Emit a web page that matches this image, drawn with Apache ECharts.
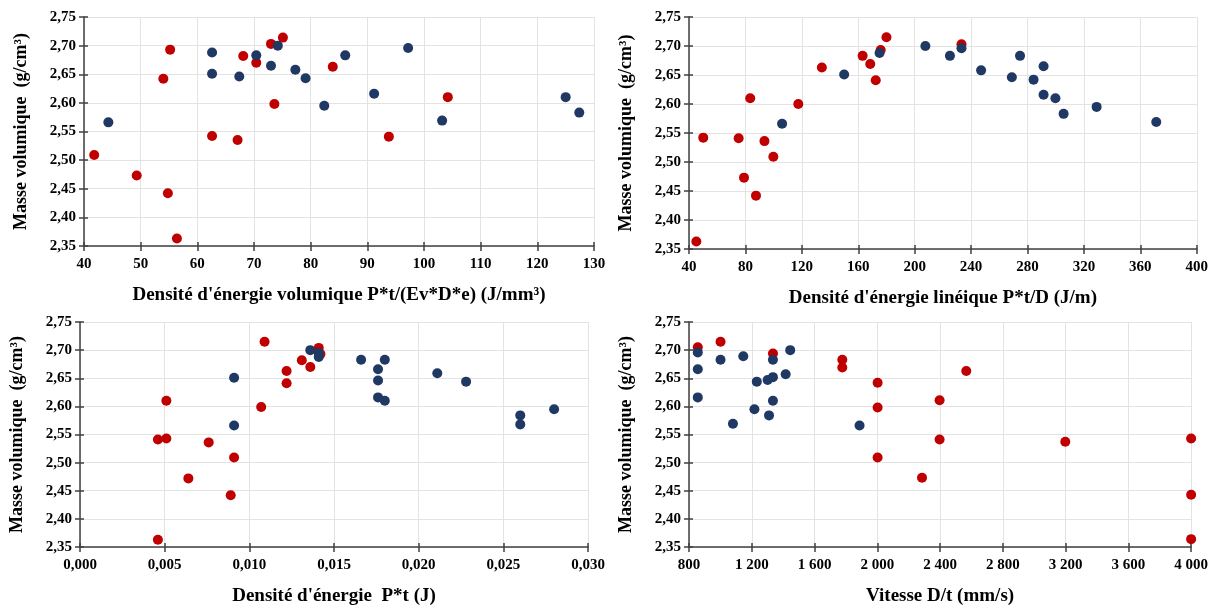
<!DOCTYPE html>
<html>
<head>
<meta charset="utf-8">
<script src="https://cdn.jsdelivr.net/npm/echarts@6/dist/echarts.min.js"></script>
<style>
  html, body { margin: 0; padding: 0; background: #fff; }
  #main { width: 1211px; height: 607px; }
</style>
</head>
<body>
<div id="main"></div>
<script>
// valeurs : [x, masse volumique]
const volBlue = [[44.3,2.566],[62.6,2.688],[62.6,2.651],[67.4,2.646],[70.4,2.683],[73.0,2.665],[74.2,2.700],[77.3,2.658],[79.1,2.643],[82.4,2.595],[86.1,2.683],[91.2,2.616],[97.2,2.696],[103.2,2.569],[125.0,2.610],[127.4,2.583]]
const volRed = [[41.8,2.509],[49.3,2.473],[55.2,2.693],[54.0,2.642],[54.8,2.442],[56.4,2.363],[62.6,2.542],[67.1,2.535],[68.1,2.682],[70.4,2.670],[73.0,2.703],[75.1,2.714],[73.6,2.598],[83.9,2.663],[93.8,2.541],[104.2,2.610]]

const linBlue = [[106.0,2.566],[150.0,2.651],[175.1,2.688],[207.6,2.700],[225.0,2.683],[233.2,2.696],[247.1,2.658],[268.9,2.646],[274.7,2.683],[284.3,2.642],[291.4,2.665],[291.4,2.616],[299.8,2.610],[305.6,2.583],[329.0,2.595],[371.3,2.569]]
const linRed = [[45.2,2.363],[50.1,2.542],[75.2,2.541],[83.4,2.610],[79.0,2.473],[87.5,2.442],[93.5,2.536],[99.8,2.509],[117.5,2.600],[134.2,2.663],[163.1,2.683],[168.5,2.669],[172.4,2.641],[175.9,2.693],[180.0,2.715],[233.2,2.703]]

const eBlue = [[0.0091,2.651],[0.0091,2.566],[0.0136,2.700],[0.0141,2.695],[0.0141,2.688],[0.0166,2.683],[0.0180,2.683],[0.0176,2.666],[0.0176,2.646],[0.0176,2.616],[0.0180,2.610],[0.0211,2.659],[0.0228,2.644],[0.0260,2.584],[0.0260,2.568],[0.0280,2.595]]
const eRed = [[0.0046,2.363],[0.0046,2.541],[0.0051,2.610],[0.0051,2.543],[0.0064,2.472],[0.0076,2.536],[0.0089,2.442],[0.0091,2.509],[0.0107,2.599],[0.0109,2.715],[0.0122,2.663],[0.0122,2.641],[0.0131,2.682],[0.0136,2.670],[0.0141,2.704],[0.0142,2.693]]

const vBlue = [[856,2.696],[856,2.666],[856,2.616],[1001,2.683],[1146,2.689],[1080,2.569],[1217,2.595],[1232,2.644],[1301,2.647],[1310,2.584],[1335,2.652],[1335,2.683],[1335,2.610],[1416,2.657],[1445,2.700],[1887,2.566]]
const vRed = [[856,2.705],[1001,2.715],[1335,2.694],[1777,2.683],[1777,2.669],[2002,2.642],[2002,2.598],[2002,2.509],[2285,2.473],[2397,2.611],[2397,2.541],[2567,2.663],[3198,2.537],[4000,2.543],[4000,2.443],[4000,2.364]]

const xNames = [
  "Densité d'énergie volumique P*t/(Ev*D*e) (J/mm³)",
  "Densité d'énergie linéique P*t/D (J/m)",
  "Densité d'énergie  P*t (J)",
  'Vitesse D/t (mm/s)'
]
const yName = 'Masse volumique  (g/cm³)'

const blue = '#1f3864'
const red = '#c00000'
const font = 'Liberation Serif'

let chart = echarts.init(document.getElementById('main'))

function comma(d) {
  return v => v.toFixed(d).replace('.', ',')
}
function thousands(v) {
  if (v < 1000) return String(v)
  let r = v % 1000
  return Math.floor(v / 1000) + ' ' + String(r).padStart(3, '0')
}

// position des 4 zones de tracé
let grids = [
  {left: 84, top: 17, width: 510, height: 229},
  {left: 689, top: 17, width: 509, height: 232},
  {left: 80, top: 322, width: 508, height: 226},
  {left: 689, top: 322, width: 504, height: 231}
]
let xRanges = [
  {min: 40, max: 130, interval: 10, fmt: v => String(v)},
  {min: 40, max: 400, interval: 40, fmt: v => String(v)},
  {min: 0, max: 0.03, interval: 0.005, fmt: comma(3)},
  {min: 800, max: 4000, interval: 400, fmt: thousands}
]
let seriesData = [[volRed, volBlue], [linRed, linBlue], [eRed, eBlue], [vRed, vBlue]]

let xAxis = []
let yAxis = []
let series = []
grids.forEach((g, i) => {
  let r = xRanges[i]
  // axe principal
  xAxis.push({
    gridIndex: i, type: 'value', min: r.min, max: r.max, interval: r.interval,
    name: xNames[i], nameLocation: 'middle', nameGap: 40,
    nameTextStyle: {fontFamily: font, fontWeight: 'bold', fontSize: 19, color: '#000'},
    axisLine: {lineStyle: {color: '#404040', width: 1.5}},
    axisTick: {show: true, length: 5, lineStyle: {color: '#404040', width: 1.5}},
    axisLabel: {formatter: r.fmt, fontFamily: font, fontWeight: 'bold', fontSize: 15, color: '#000', margin: 11},
    splitLine: {show: true, lineStyle: {color: '#e3e3e3', width: 1}}
  })
  // second axe pour les graduations vers l'intérieur
  xAxis.push({
    gridIndex: i, type: 'value', position: 'bottom', min: r.min, max: r.max, interval: r.interval,
    axisLine: {show: false},
    axisTick: {show: true, inside: true, length: 4, lineStyle: {color: '#404040', width: 1.5}},
    axisLabel: {show: false}, splitLine: {show: false}
  })
  yAxis.push({
    gridIndex: i, type: 'value', min: 2.35, max: 2.75, interval: 0.05,
    name: yName, nameLocation: 'middle', nameGap: 54,
    nameTextStyle: {fontFamily: font, fontWeight: 'bold', fontSize: 18, color: '#000'},
    axisLine: {show: true, lineStyle: {color: '#404040', width: 1.5}},
    axisTick: {show: true, length: 5, lineStyle: {color: '#404040', width: 1.5}},
    axisLabel: {formatter: comma(2), fontFamily: font, fontWeight: 'bold', fontSize: 15, color: '#000', margin: 8},
    splitLine: {show: true, lineStyle: {color: '#e3e3e3', width: 1}}
  })
  yAxis.push({
    gridIndex: i, type: 'value', position: 'left', min: 2.35, max: 2.75, interval: 0.05,
    axisLine: {show: false},
    axisTick: {show: true, inside: true, length: 4, lineStyle: {color: '#404040', width: 1.5}},
    axisLabel: {show: false}, splitLine: {show: false}
  })
  let [redPts, bluePts] = seriesData[i]
  series.push({
    type: 'scatter', xAxisIndex: i * 2, yAxisIndex: i * 2, data: redPts,
    symbolSize: 10, itemStyle: {color: red, opacity: 1}
  })
  series.push({
    type: 'scatter', xAxisIndex: i * 2, yAxisIndex: i * 2, data: bluePts,
    symbolSize: 10, itemStyle: {color: blue, opacity: 1}
  })
})

let option = {
  animation: false,
  backgroundColor: '#fff',
  grid: grids,
  xAxis: xAxis,
  yAxis: yAxis,
  series: series
}
chart.setOption(option)
</script>
</body>
</html>
